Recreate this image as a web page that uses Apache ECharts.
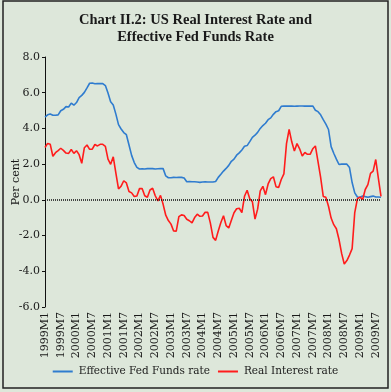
<!DOCTYPE html>
<html>
<head>
<meta charset="utf-8">
<script src="https://cdn.jsdelivr.net/npm/echarts@6/dist/echarts.min.js"></script>
<style>
html,body{margin:0;padding:0;background:#dde7da;}
#c{width:391px;height:392px;}
</style>
</head>
<body>
<div id="c"></div>
<script>
// Categories: monthly 1999M1 .. 2009M9
const years = [1999,2000,2001,2002,2003,2004,2005,2006,2007,2008,2009];
const categories = [];
years.forEach(y => { for (let m = 1; m <= 12; m++) { if (y === 2009 && m > 9) break; categories.push(y + 'M' + m); } });

const yTicks = [-6, -4, -2, 0, 2, 4, 6, 8];

const fedFunds = [
  4.63,4.76,4.81,4.74,4.74,4.76,4.99,5.07,5.22,5.20,5.42,5.30,
  5.45,5.73,5.85,6.02,6.27,6.53,6.54,6.50,6.52,6.51,6.51,6.40,
  5.98,5.49,5.31,4.80,4.21,3.97,3.77,3.65,3.07,2.49,2.09,1.82,
  1.73,1.74,1.73,1.75,1.75,1.75,1.73,1.74,1.75,1.75,1.34,1.24,
  1.24,1.26,1.25,1.26,1.26,1.22,1.01,1.03,1.01,1.01,1.00,0.98,
  1.00,1.01,1.00,1.00,1.00,1.03,1.26,1.43,1.61,1.76,1.93,2.16,
  2.28,2.50,2.63,2.79,3.00,3.04,3.26,3.50,3.62,3.78,4.00,4.16,
  4.29,4.49,4.59,4.79,4.94,4.99,5.24,5.25,5.25,5.25,5.25,5.24,
  5.25,5.26,5.26,5.25,5.25,5.25,5.26,5.02,4.94,4.76,4.49,4.24,
  3.94,2.98,2.61,2.28,1.98,2.00,2.01,2.00,1.81,0.97,0.39,0.16,
  0.15,0.22,0.18,0.15,0.18,0.21,0.16,0.16,0.15
];

const realRate = [
  2.93,3.16,3.11,2.44,2.64,2.76,2.89,2.77,2.62,2.60,2.82,2.60,
  2.75,2.53,2.05,2.92,3.07,2.83,2.84,3.10,3.02,3.11,3.11,3.00,
  2.28,1.99,2.41,1.50,0.61,0.77,1.07,0.95,0.47,0.39,0.19,0.22,
  0.63,0.64,0.23,0.15,0.55,0.65,0.23,-0.06,0.25,-0.25,-0.86,-1.16,
  -1.36,-1.74,-1.75,-0.94,-0.84,-0.88,-1.09,-1.17,-1.29,-0.99,-0.80,-0.92,
  -0.90,-0.69,-0.70,-1.30,-2.10,-2.27,-1.74,-1.27,-0.89,-1.44,-1.57,-1.14,
  -0.72,-0.50,-0.47,-0.71,0.20,0.54,0.06,-0.10,-1.08,-0.52,0.50,0.76,
  0.29,0.89,1.19,1.29,0.74,0.69,1.14,1.45,3.15,3.95,3.25,2.74,
  3.15,2.86,2.46,2.65,2.55,2.55,2.86,3.02,2.14,1.26,0.19,0.14,
  -0.36,-1.02,-1.39,-1.62,-2.22,-3.00,-3.59,-3.40,-3.09,-2.73,-0.71,0.06,
  0.15,0.02,0.58,0.85,1.48,1.61,2.26,1.20,0.20
];

const seriesNames = ['Effective Fed Funds rate', 'Real Interest rate'];
const titleLines = ['Chart II.2: US Real Interest Rate and', 'Effective Fed Funds Rate'];

const serif = 'DejaVu Serif';
const chart = echarts.init(document.getElementById('c'), null, {renderer: 'canvas'});
chart.setOption({
  backgroundColor: '#dde7da',
  animation: false,
  title: {
    text: titleLines.join('\n'),
    left: 'center', top: 7,
    textStyle: {fontFamily: 'Liberation Serif', fontWeight: 'bold', fontSize: 14.5, color: '#1a1a1a', lineHeight: 17}
  },
  legend: {
    bottom: 10, left: 'center',
    icon: 'path://M0,0 L10,0 L10,1 L0,1 Z',
    itemWidth: 26, itemHeight: 2, itemGap: 8,
    textStyle: {fontFamily: serif, fontSize: 10.5, color: '#1a1a1a', padding: [0,0,0,-2]},
    data: seriesNames
  },
  grid: {left: 45, right: 10, top: 57, bottom: 85, containLabel: false, outerBoundsMode: 'none'},
  xAxis: {
    type: 'category', data: categories, boundaryGap: false,
    axisLine: {show: false}, axisTick: {show: false},
    axisLabel: {
      rotate: 90, interval: (i) => i % 6 === 0, margin: 5,
      fontFamily: serif, fontSize: 11, color: '#1a1a1a'
    },
    splitLine: {show: false}
  },
  yAxis: {
    type: 'value', min: yTicks[0], max: yTicks[yTicks.length-1], interval: 2,
    name: 'Per cent', nameLocation: 'middle', nameGap: 23, nameRotate: 90, nameMoveOverlap: false,
    nameTextStyle: {fontFamily: serif, fontSize: 11, color: '#1a1a1a'},
    axisLine: {show: true, lineStyle: {color: '#111', width: 1}},
    axisTick: {show: true, length: 3, lineStyle: {color: '#111'}},
    axisLabel: {formatter: v => v.toFixed(1), fontFamily: serif, fontSize: 11, color: '#1a1a1a', margin: 5},
    splitLine: {show: false}
  },
  series: [
    {
      name: seriesNames[0], type: 'line', data: fedFunds, showSymbol: false,
      lineStyle: {color: '#2f7ccf', width: 1.6}, itemStyle: {color: '#2f7ccf'},
      markLine: {
        silent: true, symbol: 'none', label: {show: false},
        lineStyle: {color: '#111', type: [1, 1], width: 1.6},
        data: [{yAxis: 0}]
      }
    },
    {
      name: seriesNames[1], type: 'line', data: realRate, showSymbol: false,
      lineStyle: {color: '#ff1c1c', width: 1.6}, itemStyle: {color: '#ff1c1c'}
    }
  ],
  graphic: [{
    type: 'rect', shape: {x: 3, y: 1, width: 385, height: 387},
    style: {fill: 'none', stroke: '#222', lineWidth: 1.5}, silent: true, z: 100
  }]
});
</script>
</body>
</html>
